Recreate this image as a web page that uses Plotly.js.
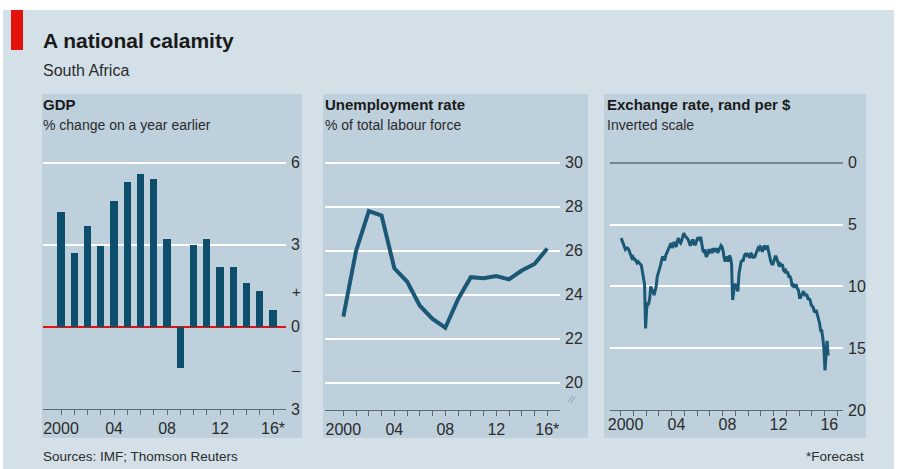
<!DOCTYPE html>
<html>
<head>
<meta charset="utf-8">
<script src="https://cdn.plot.ly/plotly-3.0.1.min.js"></script>
<style>html,body{margin:0;padding:0;background:#fff;}#chart{width:899px;height:469px;}</style>
</head>
<body>
<div id="chart"></div>
<script>
// ---------- DATA ----------
var gdpYears = [2000,2001,2002,2003,2004,2005,2006,2007,2008,2009,2010,2011,2012,2013,2014,2015,2016];
var gdpGrowth = [4.2,2.7,3.7,2.95,4.6,5.3,5.6,5.4,3.2,-1.5,3.0,3.2,2.2,2.2,1.6,1.3,0.6];

var unempYears = [2000,2001,2002,2003,2004,2005,2006,2007,2008,2009,2010,2011,2012,2013,2014,2015,2016];
var unempRate = [23.0,26.0,27.8,27.6,25.2,24.6,23.5,22.9,22.5,23.8,24.8,24.75,24.85,24.7,25.1,25.4,26.1];

var xTickYears = [2000,2001,2002,2003,2004,2005,2006,2007,2008,2009,2010,2011,2012,2013,2014,2015,2016];
var xTickTextStar = ["2000","","","","04","","","","08","","","","12","","","","16*"];
var fxLabelText = ["2000","04","08","12","16"];
var fxLabelYears = [2000,2004,2008,2012,2016];

// rand per $, monthly
var fx2000 = [6.1,6.3,6.5,6.7,7.0,6.9,6.9,7.0,7.2,7.5,7.7,7.6];
var fx2001 = [7.8,7.8,8.0,8.1,8.0,8.1,8.2,8.3,8.8,9.2,9.8,13.4];
var fx2002 = [11.8,11.4,11.4,10.9,10.0,10.3,10.4,10.7,10.4,10.0,9.2,8.8];
var fx2003 = [8.6,8.3,8.0,7.6,7.7,7.9,7.5,7.3,7.1,6.9,6.7,6.5];
var fx2004 = [6.9,6.6,6.4,6.7,6.8,6.3,6.1,6.4,6.5,6.3,5.9,5.7];
var fx2005 = [5.9,6.0,6.1,6.2,6.4,6.7,6.6,6.3,6.3,6.6,6.6,6.3];
var fx2006 = [6.1,6.1,6.2,6.0,6.4,7.1,7.2,7.0,7.6,7.5,7.2,7.0];
var fx2007 = [7.2,7.1,7.3,7.0,7.0,7.2,6.9,7.3,7.1,6.8,6.7,6.8];
var fx2008 = [7.1,7.7,8.0,7.7,7.6,8.0,7.5,7.7,8.2,11.1,10.2,9.8];
var fx2009 = [9.9,10.1,10.4,9.0,8.3,8.0,7.9,7.9,7.5,7.4,7.5,7.4];
var fx2010 = [7.5,7.7,7.3,7.4,7.7,7.6,7.6,7.3,7.1,6.9,7.0,6.8];
var fx2011 = [6.9,7.2,6.9,6.7,6.9,6.8,6.8,7.1,7.6,8.0,8.2,8.2];
var fx2012 = [7.9,7.6,7.6,7.9,8.2,8.4,8.2,8.3,8.3,8.7,8.8,8.7];
var fx2013 = [8.9,8.9,9.2,9.2,9.4,10.0,9.9,10.1,9.9,9.9,10.2,10.3];
var fx2014 = [10.9,10.9,10.7,10.5,10.4,10.7,10.7,10.7,11.0,11.0,11.1,11.5];
var fx2015 = [11.6,11.7,12.1,12.0,12.0,12.3,12.5,13.0,13.6,13.6,14.2,15.0];
var fx2016 = [16.8,15.8,14.4,15.6];
var fxByYear = [fx2000,fx2001,fx2002,fx2003,fx2004,fx2005,fx2006,fx2007,fx2008,fx2009,fx2010,fx2011,fx2012,fx2013,fx2014,fx2015,fx2016];
var fxFirstYear = 2000;

// ---------- build tables ----------
var fxDates = [], fxVals = [];
fxByYear.forEach(function(arr, i){
  arr.forEach(function(v, m){
    var mm = (m+1 < 10 ? "0" : "") + (m+1);
    fxDates.push((fxFirstYear+i) + "-" + mm + "-15");
    fxVals.push(v);
  });
});
var fxTickVals = fxLabelYears.map(function(y){return y + "-05-20";});

// ---------- styling ----------
var W = 899, H = 469;
function px(x){return x/W;}
function py(y){return 1 - y/H;}
var FONT = "Liberation Sans, Arial, sans-serif";
var OUTER = "#d3e0e8", PANEL = "#bdd0dc";
var BAR = "#0c4e6c", LINE = "#1a5876";
var TXT = "#2b2b2b";
var AX = "#5f6a70";

var traces = [
  {type:"bar", x:gdpYears, y:gdpGrowth, marker:{color:BAR}, width:0.55, xaxis:"x", yaxis:"y", hoverinfo:"x+y"},
  {type:"scatter", mode:"lines", x:unempYears, y:unempRate, line:{color:LINE, width:4, shape:"linear"}, xaxis:"x2", yaxis:"y2"},
  {type:"scatter", mode:"lines", x:fxDates, y:fxVals, line:{color:LINE, width:3}, xaxis:"x3", yaxis:"y3"}
];

function xCommon(extra){
  var o = {showgrid:false, zeroline:false, showline:true, linecolor:AX, linewidth:1,
    ticks:"outside", ticklen:5, tickwidth:1, tickcolor:AX,
    tickfont:{family:FONT, size:16, color:TXT}, ticklabelstandoff:0, fixedrange:true};
  for (var k in extra) o[k] = extra[k];
  return o;
}
function yCommon(extra){
  var o = {side:"right", showgrid:true, gridcolor:"#ffffff", gridwidth:2, showline:false,
    ticks:"", tickfont:{family:FONT, size:16, color:TXT}, ticklabelstandoff:4, fixedrange:true};
  for (var k in extra) o[k] = extra[k];
  return o;
}

var layout = {
  width:W, height:H, margin:{l:0,r:0,t:0,b:0},
  paper_bgcolor:"#ffffff", plot_bgcolor:"rgba(0,0,0,0)",
  showlegend:false, bargap:0,
  font:{family:FONT, color:TXT},
  xaxis: xCommon({domain:[px(43),px(286)], range:[1998.64,2016.98], anchor:"y",
    tickmode:"array", tickvals:xTickYears, ticktext:xTickTextStar}),
  yaxis: yCommon({domain:[py(409),py(150)], range:[-3,6.46], anchor:"x",
    tickmode:"array", tickvals:[-3,0,3,6], ticktext:["3","0","3","6"],
    zeroline:true, zerolinecolor:"#e3120b", zerolinewidth:1.5}),
  xaxis2: xCommon({domain:[px(325),px(560)], range:[1998.56,2017.0], anchor:"y2",
    tickmode:"array", tickvals:xTickYears, ticktext:xTickTextStar}),
  yaxis2: yCommon({domain:[py(410),py(150)], range:[18.76,30.58], anchor:"x2",
    tickmode:"array", tickvals:[20,22,24,26,28,30], zeroline:false}),
  xaxis3: xCommon({domain:[px(610),px(843)], type:"date", range:["1999-03-01","2017-06-15"], anchor:"y3",
    tickmode:"array", tickvals:fxTickVals, ticktext:fxLabelText, ticks:"",
    minor:{ticks:"outside", ticklen:5, tickwidth:1, tickcolor:AX, dtick:"M12", tick0:"2000-01-01", showgrid:false}}),
  yaxis3: yCommon({domain:[py(410),py(150)], range:[20,-1.03], anchor:"x3",
    tickmode:"array", tickvals:[0,5,10,15,20],
    zeroline:true, zerolinecolor:"#76858f", zerolinewidth:2}),
  shapes:[
    {type:"rect", xref:"paper", yref:"paper", x0:px(3), x1:px(894), y0:py(469), y1:py(10), fillcolor:OUTER, line:{width:0}, layer:"below"},
    {type:"rect", xref:"paper", yref:"paper", x0:px(11), x1:px(23), y0:py(50), y1:py(10), fillcolor:"#e3120b", line:{width:0}, layer:"below"},
    {type:"rect", xref:"paper", yref:"paper", x0:px(42), x1:px(302), y0:py(438), y1:py(94), fillcolor:PANEL, line:{width:0}, layer:"below"},
    {type:"rect", xref:"paper", yref:"paper", x0:px(323), x1:px(588), y0:py(438), y1:py(94), fillcolor:PANEL, line:{width:0}, layer:"below"},
    {type:"rect", xref:"paper", yref:"paper", x0:px(604), x1:px(866), y0:py(438), y1:py(94), fillcolor:PANEL, line:{width:0}, layer:"below"}
  ],
  annotations:[
    {text:"<b>A national calamity</b>", xref:"paper", yref:"paper", x:px(41), y:py(40), xanchor:"left", yanchor:"middle", showarrow:false, font:{family:FONT, size:21, color:"#1a1a1a"}},
    {text:"South Africa", xref:"paper", yref:"paper", x:px(41), y:py(70), xanchor:"left", yanchor:"middle", showarrow:false, font:{family:FONT, size:16, color:TXT}},
    {text:"<b>GDP</b>", xref:"paper", yref:"paper", x:px(41), y:py(104), xanchor:"left", yanchor:"middle", showarrow:false, font:{family:FONT, size:15, color:"#1a1a1a"}},
    {text:"% change on a year earlier", xref:"paper", yref:"paper", x:px(41), y:py(125), xanchor:"left", yanchor:"middle", showarrow:false, font:{family:FONT, size:14, color:TXT}},
    {text:"<b>Unemployment rate</b>", xref:"paper", yref:"paper", x:px(323), y:py(104), xanchor:"left", yanchor:"middle", showarrow:false, font:{family:FONT, size:15, color:"#1a1a1a"}},
    {text:"% of total labour force", xref:"paper", yref:"paper", x:px(323), y:py(125), xanchor:"left", yanchor:"middle", showarrow:false, font:{family:FONT, size:14, color:TXT}},
    {text:"<b>Exchange rate, rand per $</b>", xref:"paper", yref:"paper", x:px(605), y:py(104), xanchor:"left", yanchor:"middle", showarrow:false, font:{family:FONT, size:15, color:"#1a1a1a"}},
    {text:"Inverted scale", xref:"paper", yref:"paper", x:px(605), y:py(125), xanchor:"left", yanchor:"middle", showarrow:false, font:{family:FONT, size:14, color:TXT}},
    {text:"Sources: IMF; Thomson Reuters", xref:"paper", yref:"paper", x:px(41), y:py(456), xanchor:"left", yanchor:"middle", showarrow:false, font:{family:FONT, size:13.5, color:TXT}},
    {text:"*Forecast", xref:"paper", yref:"paper", x:px(866), y:py(456), xanchor:"right", yanchor:"middle", showarrow:false, font:{family:FONT, size:13.5, color:TXT}},
    {text:"+", xref:"paper", yref:"y", x:px(290), y:1.3, xanchor:"left", yanchor:"middle", showarrow:false, font:{family:FONT, size:15, color:TXT}},
    {text:"–", xref:"paper", yref:"y", x:px(290), y:-1.55, xanchor:"left", yanchor:"middle", showarrow:false, font:{family:FONT, size:15, color:TXT}},
    {text:"//", xref:"paper", yref:"paper", x:px(572), y:py(399), xanchor:"center", yanchor:"middle", showarrow:false, textangle:20, font:{family:FONT, size:10, color:"#8d9ca6"}}
  ]
};

Plotly.newPlot("chart", traces, layout, {displayModeBar:false, staticPlot:true});
</script>
</body>
</html>
